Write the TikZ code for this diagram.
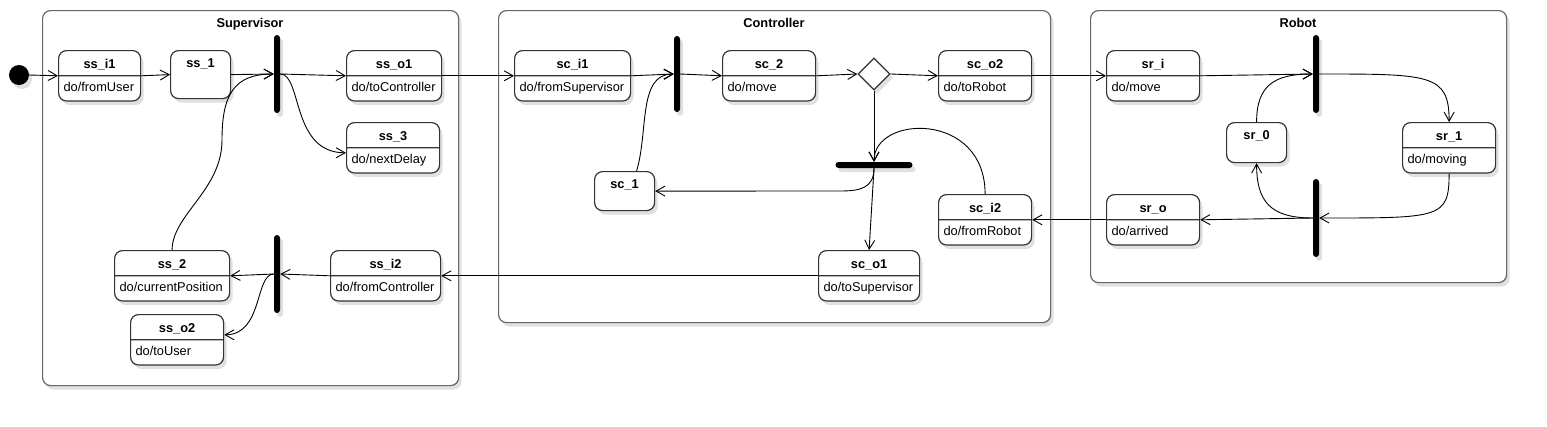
\documentclass[tikz,border=0pt]{standalone}
\usepackage{fontspec}
\setmainfont{Liberation Sans}
\usepackage{tikz}
\usetikzlibrary{arrows.meta}
\usetikzlibrary{shapes.geometric}
\usetikzlibrary{shapes.multipart}
\usetikzlibrary{shadows}

\newcommand{\stname}[1]{\makebox[\hsize]{\rule[-4pt]{0pt}{18pt}\textbf{#1}}}
\newcommand{\stdo}[1]{\rule[-6pt]{0pt}{18pt}#1}

\begin{document}
\begin{tikzpicture}[x=1pt, y=-1pt]
    \definecolor{my_line}{HTML}{333333}
    \definecolor{my_frame}{HTML}{666666}
    \definecolor{my_shadow}{HTML}{E0E0E0}
    \tikzstyle{every node}=[font=\fontsize{12.8}{15}\selectfont]
    \tikzstyle{softshadow}=[drop shadow={shadow xshift=3pt, shadow yshift=-4pt, fill=my_shadow, opacity=1}]
    \tikzstyle{container}=[draw=my_frame, line width=1.2pt, rounded corners=8pt, fill=white,
                           softshadow, anchor=north west, inner sep=0pt]
    \tikzstyle{grouptitle}=[font=\fontsize{12.8}{15}\selectfont\bfseries, anchor=base]
    \tikzstyle{statebox}=[rectangle split, rectangle split parts=2, draw=my_line, line width=1.2pt,
                          rounded corners=8pt, fill=white, softshadow, align=left,
                          inner xsep=5pt, inner ysep=3pt, anchor=north west]
    \tikzstyle{simplebox}=[draw=my_line, line width=1.2pt, rounded corners=8pt, fill=white,
                           softshadow, minimum width=60pt, inner sep=3pt, anchor=north west]
    \tikzstyle{bar}=[fill=black, rounded corners=3pt, inner sep=0pt, minimum width=6pt, softshadow]
    \tikzstyle{arr}=[-{Straight Barb[length=9pt, width=10pt]}, line width=0.9pt, draw=black]

    \useasboundingbox (0,0) rectangle (1547,426);

    % containers
    \node[container, minimum width=416pt, minimum height=375pt] (supervisor) at (42,10) {};
    \node[container, minimum width=552pt, minimum height=312pt] (controller) at (498,10) {};
    \node[container, minimum width=416pt, minimum height=272pt] (robot) at (1090,10) {};
    \node[grouptitle] (supervisor title) at (250,27.5) {Supervisor};
    \node[grouptitle] (controller title) at (774,27.5) {Controller};
    \node[grouptitle] (robot title) at (1298,27.5) {Robot};

    % Supervisor
    \node[circle, fill=black, minimum size=20pt, inner sep=0pt, softshadow] (start) at (19,75) {};
    \node[statebox, text width=72pt] (ss_i1) at (58,50) {\stname{ss\_i1}\nodepart{two}\stdo{do/fromUser}};
    \node[simplebox] (ss_1) at (170,50) {\rule[-28pt]{0pt}{42pt}\textbf{ss\_1}};
    \node[bar, minimum height=78pt] (s_fork1) at (277,74) {};
    \node[statebox, text width=85pt] (ss_o1) at (346,50) {\stname{ss\_o1}\nodepart{two}\stdo{do/toController}};
    \node[statebox, text width=83pt] (ss_3) at (346,122) {\stname{ss\_3}\nodepart{two}\stdo{do/nextDelay}};
    \node[statebox, text width=105pt] (ss_2) at (114,250) {\stname{ss\_2}\nodepart{two}\stdo{do/currentPosition}};
    \node[bar, minimum height=78pt] (s_fork2) at (277,274) {};
    \node[statebox, text width=100pt] (ss_i2) at (330,250) {\stname{ss\_i2}\nodepart{two}\stdo{do/fromController}};
    \node[statebox, text width=83pt] (ss_o2) at (130,314) {\stname{ss\_o2}\nodepart{two}\stdo{do/toUser}};

    % Controller
    \node[statebox, text width=106pt] (sc_i1) at (514,50) {\stname{sc\_i1}\nodepart{two}\stdo{do/fromSupervisor}};
    \node[bar, minimum height=76pt] (c_fork) at (677,74) {};
    \node[statebox, text width=83pt] (sc_2) at (722,50) {\stname{sc\_2}\nodepart{two}\stdo{do/move}};
    \node[diamond, draw=my_line, line width=1.2pt, fill=white, softshadow, minimum width=32pt,
          minimum height=32pt, inner sep=0pt] (sc_choice) at (874,74) {};
    \node[statebox, text width=83pt] (sc_o2) at (938,50) {\stname{sc\_o2}\nodepart{two}\stdo{do/toRobot}};
    \node[bar, minimum width=77pt, minimum height=6pt] (c_join) at (874,165) {};
    \node[simplebox] (sc_1) at (594,171) {\rule[-19pt]{0pt}{33pt}\textbf{sc\_1}};
    \node[statebox, text width=83pt] (sc_i2) at (938,194) {\stname{sc\_i2}\nodepart{two}\stdo{do/fromRobot}};
    \node[statebox, text width=91pt] (sc_o1) at (818,250) {\stname{sc\_o1}\nodepart{two}\stdo{do/toSupervisor}};

    % Robot
    \node[statebox, text width=83pt] (sr_i) at (1106,50) {\stname{sr\_i}\nodepart{two}\stdo{do/move}};
    \node[bar, minimum height=78pt] (r_fork1) at (1316,74) {};
    \node[simplebox] (sr_0) at (1226,122) {\rule[-20pt]{0pt}{34pt}\textbf{sr\_0}};
    \node[statebox, text width=83pt] (sr_1) at (1402,122) {\stname{sr\_1}\nodepart{two}\stdo{do/moving}};
    \node[bar, minimum height=78pt] (r_fork2) at (1316,218) {};
    \node[statebox, text width=83pt] (sr_o) at (1106,194) {\stname{sr\_o}\nodepart{two}\stdo{do/arrived}};

    % transitions
    \draw[arr] (start.east) -- (ss_i1.text split west);
    \draw[arr] (ss_i1.text split east) -- (ss_1.west);
    \draw[arr] (ss_1.east) -- (s_fork1.west);
    \draw[arr] (s_fork1.east) -- (ss_o1.text split west);
    \draw[arr] (s_fork1.east) .. controls +(22,0) and +(-55,0) .. ([yshift=-5pt]ss_3.west);
    \draw[arr] (ss_2.north) .. controls +(0,-35) and +(0,50) .. (222,140)
                            .. controls +(0,-45) and +(-40,0) .. (s_fork1.west);
    \draw[arr] (ss_i2.text split west) -- (s_fork2.east);
    \draw[arr] (s_fork2.west) -- (ss_2.text split east);
    \draw[arr] (s_fork2.west) .. controls +(-19,0) and +(39,0) .. ([yshift=5pt]ss_o2.east);
    \draw[arr] (ss_o1.text split east) -- (sc_i1.text split west);
    \draw[arr] (sc_o1.text split west) -- (ss_i2.text split east);

    \draw[arr] (sc_i1.text split east) -- (c_fork.west);
    \draw[arr] (c_fork.east) -- (sc_2.text split west);
    \draw[arr] (sc_2.text split east) -- (sc_choice.west);
    \draw[arr] (sc_choice.east) -- (sc_o2.text split west);
    \draw[arr] (sc_choice.south) -- (c_join.north);
    \draw[arr] (sc_i2.north) .. controls +(0,-83) and +(0,-47) .. (c_join.north);
    \draw[arr] (c_join.south) .. controls +(0,20) and +(20,0) .. (840,191) -- (sc_1.east);
    \draw[arr] (c_join.south) -- (sc_o1.north);
    \draw[arr] ([xshift=12pt]sc_1.north) .. controls +(12,-40) and +(-36,0) .. (c_fork.west);
    \draw[arr] (sc_o2.text split east) -- (sr_i.text split west);
    \draw[arr] (sr_o.text split west) -- (sc_i2.text split east);

    \draw[arr] (sr_i.text split east) -- (r_fork1.west);
    \draw[arr] (r_fork1.east) .. controls +(111,0) and +(0,-48) .. (sr_1.north);
    \draw[arr] (sr_1.south) .. controls +(0,45) and +(121,0) .. (r_fork2.east);
    \draw[arr] (r_fork2.west) -- (sr_o.text split east);
    \draw[arr] (r_fork2.west) .. controls +(-43,0) and +(0,38) .. (sr_0.south);
    \draw[arr] (sr_0.north) .. controls +(0,-37) and +(-38,0) .. (r_fork1.west);
\end{tikzpicture}
\end{document}
